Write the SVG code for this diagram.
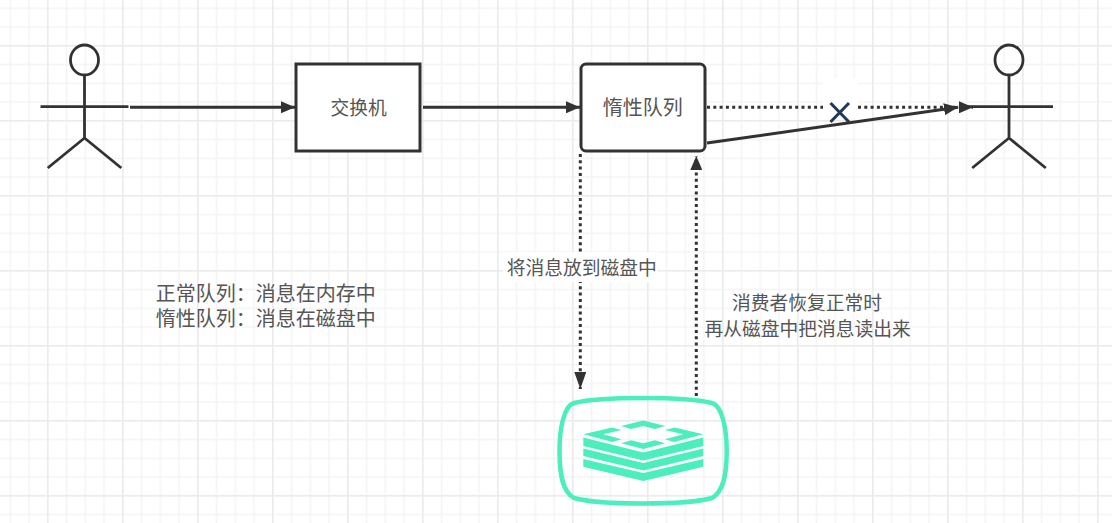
<svg xmlns="http://www.w3.org/2000/svg" width="1112" height="523" viewBox="0 0 1112 523">
  <style>
    .ln { fill: none; stroke: #323232; stroke-width: 3; }
    .thin { fill: none; stroke: #323232; stroke-width: 2.8; }
    .dot { fill: none; stroke: #323232; stroke-width: 3; stroke-dasharray: 3 3.3; }
    .box { fill: #fff; stroke: #323232; stroke-width: 3; }
    .t { font-family: "Noto Sans CJK SC", "Noto Sans", sans-serif; font-size: 18.75px; fill: #555; text-anchor: middle; }
    .big { font-size: 20px; }
    .mint { fill: #4deebd; }
  </style>
  <defs>
    <pattern id="minor" width="18.75" height="18.75" patternUnits="userSpaceOnUse" x="-9.25" y="7.5">
      <path d="M.5 0V18.75M0 .5H18.75" fill="none" stroke="#f4f4f4" stroke-width="2"/>
    </pattern>
    <pattern id="major" width="75" height="75" patternUnits="userSpaceOnUse" x="47" y="45">
      <path d="M.5 0V75M0 .5H75" fill="none" stroke="#ebebeb" stroke-width="2"/>
    </pattern>
    <marker id="head" markerWidth="15" markerHeight="12" refX="14" refY="6" orient="auto" markerUnits="userSpaceOnUse">
      <path d="M0 0L14 6L0 12Z" fill="#323232"/>
    </marker>
    <marker id="head-long" markerWidth="18" markerHeight="12" refX="17" refY="6" orient="auto" markerUnits="userSpaceOnUse">
      <path d="M0 0L17 6L0 12Z" fill="#323232"/>
    </marker>
    <g id="figure">
      <ellipse cx="0" cy="60" rx="14" ry="15" class="thin"/>
      <path d="M0 75V138M-44 106.700H44M0 138L-36.800 168M0 138L36.800 168" class="thin"/>
    </g>
  </defs>

  <rect width="1112" height="523" fill="#fff"/>
  <rect width="1112" height="523" fill="url(#minor)"/>
  <rect width="1112" height="523" fill="url(#major)"/>

  <g id="cancel-mark">
    <rect x="823" y="78" width="35" height="40" fill="#fff"/>
    <path d="M830.500 103L849 122M849 103L830.500 122" fill="none" stroke="#1f3a57" stroke-width="3"/>
  </g>

  <g id="connectors">
    <path d="M130 107.300H295" class="ln" marker-end="url(#head)"/>
    <path d="M423 107.300H580" class="ln" marker-end="url(#head)"/>
    <path d="M707 107.300H823M858 107.300H973" class="dot" marker-end="url(#head)"/>
    <path d="M707 143L958 107.300" class="ln" marker-end="url(#head)"/>
    <path d="M580.300 154V389" class="dot" marker-end="url(#head-long)"/>
    <path d="M696.300 396V156" class="dot" marker-end="url(#head)"/>
  </g>

  <g id="consumer-left"><use href="#figure" x="84.500"/></g>
  <g id="consumer-right"><use href="#figure" x="1009"/></g>

  <g id="exchange">
    <rect x="296" y="64" width="124" height="87" class="box"/>
    <text x="358.700" y="115" class="t">交换机</text>
  </g>
  <g id="lazy-queue">
    <rect x="581" y="64" width="124" height="87" rx="5" class="box"/>
    <text x="642.700" y="114.700" class="t big">惰性队列</text>
  </g>

  <g id="disk">
    <path d="M643 398C612 398 590 399 574 403C564 406 559.500 428 559.500 451C559.500 476 563 492 574 498C590 502.500 612 503.500 643 503.500C674 503.500 696 502.500 712 498C723 492 726.700 476 726.700 451C726.700 428 722 406 712 403C696 399 674 398 643 398Z" fill="none" stroke="#4deebd" stroke-width="4.500"/>
    <path class="mint" d="M621 426L643.300 420.500L665.300 426L655 429L643.300 426L631 429Z"/>
    <path class="mint" d="M621 443.300L631 440.300L643.300 443.300L655 440.300L665.300 443.300L643.300 449Z"/>
    <path class="mint" d="M583.300 434.300L612 427.500L621.500 430L603.300 434.300L621.500 439.300L612.500 442Z"/>
    <path class="mint" d="M703.300 434.300L674.600 427.500L665 430L683.300 434.300L665 439.300L674 442Z"/>
    <path class="mint" d="M583.300 437.500L643.300 452.500L703.300 437.500V446L643.300 460.500L583.300 446Z"/>
    <path class="mint" d="M583.300 448.500L643.300 463L703.300 448.500V456L643.300 470.500L583.300 456Z"/>
    <path class="mint" d="M583.300 459L643.300 473L703.300 459V466.700L643.300 481L583.300 466.700Z"/>
  </g>

  <g id="labels">
    <rect x="503" y="252" width="155" height="30" fill="#fff"/>
    <text x="581.700" y="274.500" class="t">将消息放到磁盘中</text>
    <text class="t"><tspan x="807" y="310.300">消费者恢复正常时</tspan><tspan x="807.700" y="336">再从磁盘中把消息读出来</tspan></text>
    <text class="t big"><tspan x="265.700" y="301.400">正常队列：消息在内存中</tspan><tspan x="265.700" y="326.400">惰性队列：消息在磁盘中</tspan></text>
  </g>
</svg>
